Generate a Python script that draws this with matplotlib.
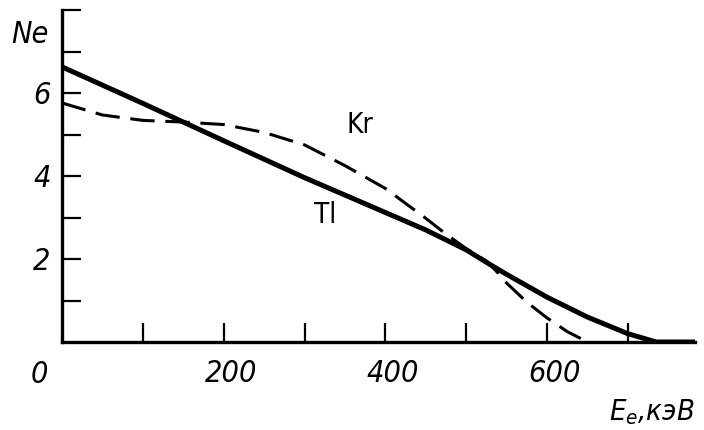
import matplotlib
matplotlib.use("Agg")
import numpy as np
import matplotlib.pyplot as plt
import matplotlib.transforms as mtransforms

plt.rcParams['font.family'] = ['DejaVu Sans']
plt.rcParams['font.stretch'] = 'condensed'

# Tl (solid)
e_tl = [0, 100, 200, 300, 400, 450, 500, 525, 550, 600, 650, 700, 735, 790]
n_tl = [6.63, 5.75, 4.85, 3.96, 3.12, 2.70, 2.22, 1.92, 1.63, 1.08, 0.60, 0.20, 0.0, 0.0]

# Kr (dashed)
e_kr = [0, 50, 100, 150, 200, 250, 300, 350, 400, 450, 475, 500, 525, 540, 550, 575, 600, 625, 650]
n_kr = [5.76, 5.47, 5.34, 5.30, 5.24, 5.05, 4.75, 4.25, 3.70, 2.98, 2.60, 2.25, 1.95, 1.65, 1.42, 0.96, 0.58, 0.25, 0.0]

x_ticks = [100, 200, 300, 400, 500, 600, 700]
x_labels = ['', '200', '', '400', '', '600', '']
y_ticks = [1, 2, 3, 4, 5, 6, 7, 8]
y_labels = ['', '2', '', '4', '', '6', '', '']

fig = plt.figure(figsize=(7.04, 4.30), dpi=100)
ax = fig.add_axes([62/704, 1 - 342/430, (695 - 62)/704, (342 - 10)/430])

ax.plot(e_tl, n_tl, color='k', lw=3.6, solid_capstyle='butt')
ax.plot(e_kr, n_kr, color='k', lw=2.2, linestyle=(0, (8, 3.5)))

ax.set_xlim(0, 783)
ax.set_ylim(0, 8)

for s in ['top', 'right']:
    ax.spines[s].set_visible(False)
for s in ['left', 'bottom']:
    ax.spines[s].set_linewidth(2.4)

ax.set_xticks(x_ticks)
ax.set_xticklabels(x_labels)
ax.set_yticks(y_ticks)
ax.set_yticklabels(y_labels)
ax.tick_params(direction='in', length=14, width=1.6, labelsize=22)
ax.tick_params(axis='x', pad=12)
ax.tick_params(axis='y', pad=8)
shift = mtransforms.ScaledTranslation(0.07, 0, fig.dpi_scale_trans)
for lab in ax.get_xticklabels():
    lab.set_style('italic')
    lab.set_transform(lab.get_transform() + shift)
for lab in ax.get_yticklabels():
    lab.set_style('italic')

ax.text(-28, -0.78, '0', fontsize=22, style='italic', ha='center', va='center', clip_on=False)
ax.text(-40, 7.4, 'Ne', fontsize=22, style='italic', ha='center', va='center', clip_on=False)
ax.text(730, -1.68, '$\\mathit{E_e}$,кэВ', fontsize=21, style='italic', ha='center', va='center', clip_on=False)

ax.text(369, 5.23, 'Kr', fontsize=20, ha='center', va='center')
ax.text(325, 3.06, 'Tl', fontsize=20, ha='center', va='center')

fig.savefig('out.png', dpi=100)
